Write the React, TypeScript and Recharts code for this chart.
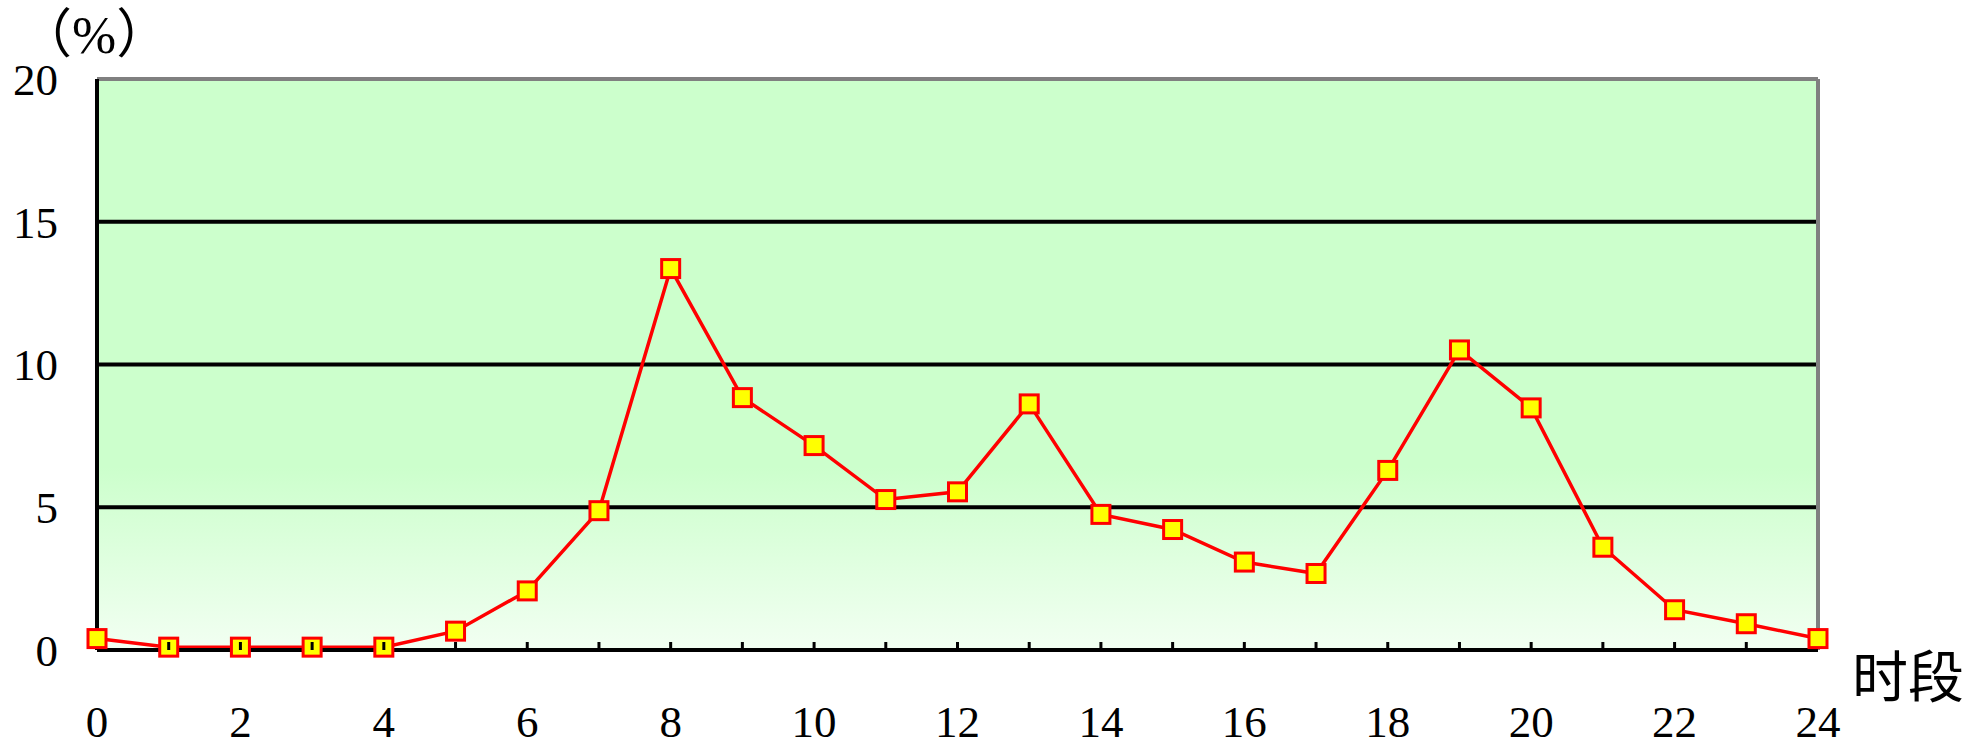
import React from "react";
import {
  CartesianGrid,
  Line,
  LineChart,
  ReferenceLine,
  XAxis,
  YAxis,
} from "recharts";

// 时段 (hour of day) and share of traffic (%)
const hours = [0, 1, 2, 3, 4, 5, 6, 7, 8, 9, 10, 11, 12, 13, 14, 15, 16, 17, 18, 19, 20, 21, 22, 23, 24];
const shares = [
  0.4, 0.1, 0.1, 0.1, 0.1, 0.66, 2.07, 4.88, 13.36, 8.84, 7.16, 5.27, 5.54,
  8.62, 4.75, 4.22, 3.08, 2.68, 6.29, 10.51, 8.48, 3.6, 1.41, 0.92, 0.4,
];
const yTicks = [0, 5, 10, 15, 20];
const gridValues = [5, 10, 15];
const yUnit = "（%）";
const xName = "时段";

const data = hours.map((h, i) => ({ hour: h, share: shares[i] }));

const FONT = '"Liberation Serif", "Noto Sans CJK SC", serif';

function SquareDot(props: any) {
  const { cx, cy } = props;
  if (cx == null || cy == null) return null;
  return (
    <rect
      x={cx - 9}
      y={cy - 9}
      width={18}
      height={18}
      fill="#FFFF00"
      stroke="#FF0000"
      strokeWidth={3}
    />
  );
}

function HourTick(props: any) {
  const { x, y, payload } = props;
  const v = payload.value as number;
  return (
    <g>
      {v > 0 && v < 24 && (
        <line x1={x} x2={x} y1={y - 8} y2={y} stroke="#000" strokeWidth={3} />
      )}
      {v % 2 === 0 && (
        <text
          x={x}
          y={y + 87}
          textAnchor="middle"
          fontFamily={FONT}
          fontSize={45}
          fill="#000"
        >
          {v}
        </text>
      )}
    </g>
  );
}

export default function App() {
  return (
    <div
      style={{
        position: "absolute",
        left: 0,
        top: 0,
        width: 1972,
        height: 746,
        background: "#fff",
      }}
    >
      <LineChart
        width={1972}
        height={746}
        data={data}
        margin={{ top: 79, right: 154, bottom: 0, left: 0 }}
      >
        <defs>
          <linearGradient id="plotBg" x1="0" y1="0" x2="0" y2="1">
            <stop offset="0%" stopColor="#CCFFCC" />
            <stop offset="68%" stopColor="#CCFFCC" />
            <stop offset="100%" stopColor="#F2FFF2" />
          </linearGradient>
        </defs>
        <CartesianGrid
          vertical={false}
          horizontalValues={gridValues}
          stroke="#000"
          strokeWidth={4}
          strokeOpacity={1}
          fill="url(#plotBg)"
          fillOpacity={1}
        />
        <ReferenceLine y={20} stroke="#808080" strokeWidth={4} />
        <ReferenceLine x={24} stroke="#808080" strokeWidth={4} />
        <XAxis
          dataKey="hour"
          type="number"
          domain={[0, 24]}
          ticks={hours}
          interval={0}
          tickLine={false}
          tickSize={0}
          tickMargin={0}
          axisLine={{ stroke: "#000", strokeWidth: 4 }}
          tick={<HourTick />}
          height={96}
        />
        <YAxis
          domain={[0, 20]}
          ticks={yTicks}
          interval={0}
          width={97}
          tickLine={false}
          tickSize={0}
          tickMargin={39}
          axisLine={{ stroke: "#000", strokeWidth: 4 }}
          tick={{ fill: "#000", fontSize: 45, fontFamily: FONT }}
        />
        <Line
          type="linear"
          dataKey="share"
          stroke="#FF0000"
          strokeWidth={3.5}
          dot={<SquareDot />}
          activeDot={false}
          isAnimationActive={false}
        />
      </LineChart>
      <div
        style={{
          position: "absolute",
          left: 19,
          top: 16,
          fontFamily: FONT,
          fontSize: 53,
          lineHeight: "38px",
          color: "#000",
          whiteSpace: "nowrap",
        }}
      >
        {yUnit}
      </div>
      <div
        style={{
          position: "absolute",
          left: 1852,
          top: 646,
          fontFamily: FONT,
          fontSize: 56,
          lineHeight: "64px",
          color: "#000",
          whiteSpace: "nowrap",
        }}
      >
        {xName}
      </div>
    </div>
  );
}
